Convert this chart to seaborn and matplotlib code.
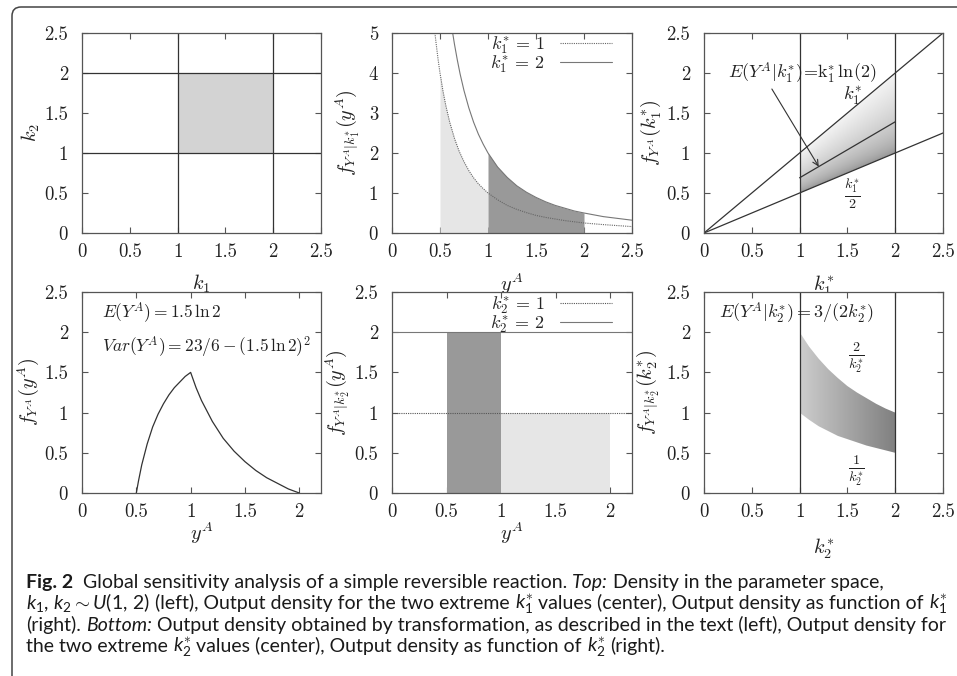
import numpy as np
import matplotlib
matplotlib.use("Agg")
import matplotlib.pyplot as plt
import seaborn as sns
from matplotlib import font_manager
from matplotlib.path import Path
from matplotlib.patches import PathPatch, Polygon
from matplotlib.transforms import IdentityTransform

# --- data ---
# top left: support of k1, k2 ~ U(1, 2)
k_bounds = [1.0, 2.0]

# top center: conditional output densities for k1* = 1 and k1* = 2
y_k1_1 = [0.447, 0.46, 0.48, 0.5, 0.53, 0.56, 0.6, 0.65, 0.7, 0.75, 0.8, 0.85, 0.9,
          0.95, 1.0, 1.1, 1.2, 1.3, 1.4, 1.5, 1.6, 1.8, 2.0, 2.2, 2.5]
f_k1_1 = [5.0, 4.73, 4.34, 4.0, 3.56, 3.19, 2.78, 2.37, 2.04, 1.78, 1.56, 1.38, 1.23,
          1.11, 1.0, 0.83, 0.69, 0.59, 0.51, 0.44, 0.39, 0.31, 0.25, 0.21, 0.16]
y_k1_2 = [0.632, 0.65, 0.68, 0.71, 0.75, 0.8, 0.85, 0.9, 0.95, 1.0, 1.1, 1.2, 1.3,
          1.4, 1.5, 1.6, 1.7, 1.8, 1.9, 2.0, 2.2, 2.5]
f_k1_2 = [5.0, 4.73, 4.33, 3.97, 3.56, 3.13, 2.77, 2.47, 2.22, 2.0, 1.65, 1.39, 1.18,
          1.02, 0.89, 0.78, 0.69, 0.62, 0.55, 0.5, 0.41, 0.32]

# top right: output range as function of k1*
k1_line = [0.0, 2.5]
upper_k1 = [0.0, 2.5]
lower_k1 = [0.0, 1.25]
mean_k1 = [0.69, 1.39]          # at k_bounds
band_upper_k1 = [1.0, 2.0]      # at k_bounds
band_lower_k1 = [0.5, 1.0]

# bottom left: output density by transformation
y_out = [0.5, 0.52, 0.55, 0.6, 0.65, 0.7, 0.75, 0.8, 0.85, 0.9, 0.95, 1.0,
         1.05, 1.1, 1.2, 1.3, 1.4, 1.5, 1.6, 1.7, 1.8, 1.9, 2.0]
f_out = [0.0, 0.15, 0.35, 0.61, 0.82, 0.98, 1.11, 1.22, 1.31, 1.38, 1.45, 1.5,
         1.31, 1.15, 0.89, 0.68, 0.52, 0.39, 0.28, 0.19, 0.12, 0.05, 0.0]

# bottom center: conditional densities for k2* = 1 and k2* = 2
k2_levels = [1.0, 2.0]
range_k2_2 = [0.5, 1.0]   # support when k2* = 2 (density 2)
range_k2_1 = [1.0, 2.0]   # support when k2* = 1 (density 1)

# bottom right: output range as function of k2*
k2_grid = [1.0, 1.1, 1.2, 1.3, 1.4, 1.5, 1.6, 1.7, 1.8, 1.9, 2.0]
upper_k2 = [2.0, 1.82, 1.67, 1.54, 1.43, 1.33, 1.25, 1.18, 1.11, 1.05, 1.0]
lower_k2 = [1.0, 0.91, 0.83, 0.77, 0.71, 0.67, 0.63, 0.59, 0.56, 0.53, 0.5]

caption_lines = [
    [("Fig. 2", "bold"), ("  Global sensitivity analysis of a simple reversible reaction. ", "normal"),
     ("Top:", "italic"), (" Density in the parameter space,", "normal")],
    [(r"$k_1,\, k_2 \sim U(1,\, 2)$", "normal"), (" (left), Output density for the two extreme ", "normal"),
     (r"$k_1^{\ast}$", "normal"), (" values (center), Output density as function of ", "normal"),
     (r"$k_1^{\ast}$", "normal")],
    [("(right). ", "normal"), ("Bottom:", "italic"),
     (" Output density obtained by transformation, as described in the text (left), Output density for", "normal")],
    [("the two extreme ", "normal"), (r"$k_2^{\ast}$", "normal"),
     (" values (center), Output density as function of ", "normal"), (r"$k_2^{\ast}$", "normal"),
     (" (right).", "normal")],
]

# --- style ---
sns.set_style("ticks")
names = {f.name for f in font_manager.fontManager.ttflist}
cap_font = next((c for c in ["Lato", "Open Sans", "DejaVu Sans"] if c in names), "DejaVu Sans")
plt.rcParams["font.family"] = "serif"
plt.rcParams["font.serif"] = ["cmr10", "DejaVu Serif"]
plt.rcParams["mathtext.fontset"] = "cm"
plt.rcParams["axes.formatter.use_mathtext"] = True
plt.rcParams["mathtext.rm"] = cap_font
plt.rcParams["mathtext.it"] = cap_font + ":italic"
plt.rcParams["mathtext.bf"] = cap_font + ":bold"

LINE = "#333333"
FRAME = "#555555"
TXT = "#222222"

W, H = 957, 676
fig = plt.figure(figsize=(W / 100, H / 100), dpi=100)


def px_axes(left, top, right, bottom):
    return fig.add_axes([left / W, 1 - bottom / H, (right - left) / W, (bottom - top) / H])


def style(ax, xmax, ymax, xticks, yticks, xlabel, ylabel, xl_y, yl_x):
    ax.set_xlim(0, xmax)
    ax.set_ylim(0, ymax)
    ax.set_xticks(xticks, labels=[f"{t:g}" for t in xticks])
    ax.set_yticks(yticks, labels=[f"{t:g}" for t in yticks])
    ax.tick_params(direction="in", length=4, width=0.8, top=True, right=True,
                   color=FRAME, labelsize=13.5, labelcolor=TXT)
    ax.tick_params(axis="x", pad=7)
    ax.tick_params(axis="y", pad=10)
    for s in ax.spines.values():
        s.set_color(FRAME)
        s.set_linewidth(0.9)
        s.set_visible(True)
    ax.set_xlabel(xlabel, fontsize=14.5, color=TXT, va="top")
    ax.set_ylabel(ylabel, fontsize=14.5, color=TXT)
    ax.xaxis.set_label_coords(0.5, xl_y)
    ax.yaxis.set_label_coords(yl_x, 0.5)


def key(ax, top):
    ax.legend(loc="upper right", bbox_to_anchor=(0.917, top), frameon=False, markerfirst=False,
              handlelength=2.9, handletextpad=0.8, labelspacing=-0.1, fontsize=13,
              borderaxespad=0, borderpad=0)


ax1 = px_axes(82, 33, 321, 233)
ax2 = px_axes(392, 33, 632, 233)
ax3 = px_axes(704, 33, 943, 233)
ax4 = px_axes(82, 292, 321, 493)
ax5 = px_axes(392, 292, 632, 493)
ax6 = px_axes(704, 292, 943, 493)

ticks25 = [0, 0.5, 1, 1.5, 2, 2.5]
ticks2 = [0, 0.5, 1, 1.5, 2]

# --- top left: parameter space ---
ax1.fill_between(k_bounds, k_bounds[0], k_bounds[1], color="#d3d3d3", lw=0, zorder=1)
for b in k_bounds:
    ax1.axvline(b, color=LINE, lw=0.9, zorder=2)
    ax1.axhline(b, color=LINE, lw=0.9, zorder=2)
style(ax1, 2.5, 2.5, ticks25, ticks25, r"$k_1$", r"$k_2$", -0.2, -0.167)

# --- top center: conditional densities given k1* ---
x1, f1 = np.array(y_k1_1), np.array(f_k1_1)
x2, f2 = np.array(y_k1_2), np.array(f_k1_2)
m1 = (x1 >= 0.5) & (x1 <= 1.0)
m2 = (x2 >= 1.0) & (x2 <= 2.0)
ax2.fill_between(x1[m1], 0, f1[m1], color="#e6e6e6", lw=0, zorder=1)
ax2.fill_between(x2[m2], 0, f2[m2], color="#999999", lw=0, zorder=1)
sns.lineplot(x=y_k1_1, y=f_k1_1, ax=ax2, color="#666666", lw=0.8, linestyle=(0, (1, 1)),
             estimator=None, sort=False, label=r"$k_1^{\ast}\, =\, 1$")
sns.lineplot(x=y_k1_2, y=f_k1_2, ax=ax2, color="#777777", lw=0.8,
             estimator=None, sort=False, label=r"$k_1^{\ast}\, =\, 2$")
key(ax2, 0.995)
style(ax2, 2.5, 5, ticks25, [0, 1, 2, 3, 4, 5], r"$y^A$", r"$f_{Y^A|k_1^{\ast}}(y^A)$", -0.19, -0.125)

# --- top right: output as function of k1* ---
gx, gy = np.meshgrid(np.linspace(1, 2, 200), np.linspace(0.5, 2, 300))
rel = np.clip((gy - gx / 2) / (gx / 2), 0, 1)
im = ax3.imshow(0.55 + 0.40 * np.sqrt(rel), extent=(1, 2, 0.5, 2), origin="lower",
                cmap="gray", vmin=0, vmax=1, aspect="auto", zorder=1)
band = Polygon(list(zip(k_bounds + k_bounds[::-1], band_lower_k1 + band_upper_k1[::-1])),
               closed=True, transform=ax3.transData, facecolor="none", edgecolor="none")
ax3.add_patch(band)
im.set_clip_path(band)
sns.lineplot(x=k1_line, y=upper_k1, ax=ax3, color=LINE, lw=0.9, estimator=None)
sns.lineplot(x=k1_line, y=lower_k1, ax=ax3, color=LINE, lw=0.9, estimator=None)
sns.lineplot(x=k_bounds, y=mean_k1, ax=ax3, color=LINE, lw=0.9, estimator=None)
for b in k_bounds:
    ax3.axvline(b, color=LINE, lw=0.9, zorder=2)
ax3.annotate("", xy=(1.2, 0.83), xytext=(0.71, 1.80),
             arrowprops=dict(arrowstyle="->", color=LINE, lw=0.8, shrinkA=0, shrinkB=0))
ax3.text(1.03, 2.0, r"$E(Y^A|k_1^{\ast})\!=\!\mathrm{k}_1^{\ast}\,\ln(2)$", ha="center", va="center",
         fontsize=13, color=TXT)
ax3.text(1.555, 1.72, r"$k_1^{\ast}$", ha="center", va="center", fontsize=13.5, color=TXT)
ax3.text(1.555, 0.49, r"$\frac{k_1^{\ast}}{2}$", ha="center", va="center", fontsize=14.5, color=TXT)
style(ax3, 2.5, 2.5, ticks25, ticks25, r"$k_1^{\ast}$", r"$f_{Y^A}(k_1^{\ast})$", -0.205, -0.17)

# --- bottom left: output density ---
sns.lineplot(x=y_out, y=f_out, ax=ax4, color=LINE, lw=0.9, estimator=None, sort=False)
ax4.text(0.184, 2.25, r"$E(Y^A) = 1.5\,\ln 2$", ha="left", va="center", fontsize=12.5, color=TXT)
ax4.text(0.184, 1.81, r"$Var(Y^A) = 23/6 - (1.5\,\ln 2)^2$", ha="left", va="center",
         fontsize=12.5, color=TXT)
style(ax4, 2.2, 2.5, ticks2, ticks25, r"$y^A$", r"$f_{Y^A}(y^A)$", -0.135, -0.17)

# --- bottom center: conditional densities given k2* ---
ax5.fill_between(range_k2_2, 0, k2_levels[1], color="#999999", lw=0, zorder=1)
ax5.fill_between(range_k2_1, 0, k2_levels[0], color="#e6e6e6", lw=0, zorder=1)
ax5.axhline(k2_levels[0], color="#555555", lw=0.8, linestyle=(0, (1, 1)), zorder=2,
            label=r"$k_2^{\ast}\, =\, 1$")
ax5.axhline(k2_levels[1], color="#777777", lw=0.8, zorder=2, label=r"$k_2^{\ast}\, =\, 2$")
key(ax5, 0.99)
style(ax5, 2.2, 2.5, ticks2, ticks25, r"$y^A$", r"$f_{Y^A|k_2^{\ast}}(y^A)$", -0.135, -0.167)

# --- bottom right: output as function of k2* ---
gx6, gy6 = np.meshgrid(np.linspace(1, 2, 200), np.linspace(0.5, 2, 10))
im6 = ax6.imshow(0.80 - 0.30 * (gx6 - 1), extent=(1, 2, 0.5, 2), origin="lower",
                 cmap="gray", vmin=0, vmax=1, aspect="auto", zorder=1)
band6 = Polygon(list(zip(k2_grid + k2_grid[::-1], lower_k2 + upper_k2[::-1])),
                closed=True, transform=ax6.transData, facecolor="none", edgecolor="none")
ax6.add_patch(band6)
im6.set_clip_path(band6)
for b in k_bounds:
    ax6.axvline(b, color=LINE, lw=0.9, zorder=2)
ax6.text(0.97, 2.235, r"$E(Y^A|k_2^{\ast}) = 3/(2k_2^{\ast})$", ha="center", va="center",
         fontsize=13, color=TXT)
ax6.text(1.60, 1.675, r"$\frac{2}{k_2^{\ast}}$", ha="center", va="center", fontsize=14.5, color=TXT)
ax6.text(1.60, 0.275, r"$\frac{1}{k_2^{\ast}}$", ha="center", va="center", fontsize=14.5, color=TXT)
style(ax6, 2.5, 2.5, ticks25, ticks25, r"$k_2^{\ast}$", r"$f_{Y^A|k_2^{\ast}}(k_2^{\ast})$", -0.22, -0.176)

# --- rounded frame (top and left edges only) ---
r = 9
verts = [(12, -5), (12, H - 7 - r), (12, H - 7), (12 + r, H - 7), (W + 10, H - 7)]
codes = [Path.MOVETO, Path.LINETO, Path.CURVE3, Path.CURVE3, Path.LINETO]
fig.add_artist(PathPatch(Path(verts, codes), transform=IdentityTransform(), fill=False,
                         edgecolor="#444444", lw=1.1))

# --- caption ---
renderer = fig.canvas.get_renderer()


def seg_props(kind):
    return dict(family=cap_font, weight="bold" if kind == "bold" else "normal",
                style="italic" if kind == "italic" else "normal", math_fontfamily="custom")


def measure(s, kind, size):
    t = fig.text(0, 0, s, fontsize=size, **seg_props(kind))
    w = t.get_window_extent(renderer).width
    t.remove()
    return w


def layout(line, size, x0=26, y=None):
    sp = measure("a a", "normal", size) - measure("aa", "normal", size)
    x = x0
    for s, kind in line:
        lead = len(s) - len(s.lstrip(" "))
        trail = len(s) - len(s.rstrip(" "))
        core = s.strip(" ")
        x += lead * sp
        if y is not None:
            fig.text(x / W, 1 - y / H, core, fontsize=size, ha="left", va="baseline",
                     color="#1a1a1a", **seg_props(kind))
        x += measure(core, kind, size) + trail * sp
    return x - x0


cap_size = 10 * 924 / layout(caption_lines[1], 10)
for line, base in zip(caption_lines, [588, 609, 631, 652]):
    layout(line, cap_size, y=base)

fig.savefig("out.png", dpi=100, facecolor="white")
